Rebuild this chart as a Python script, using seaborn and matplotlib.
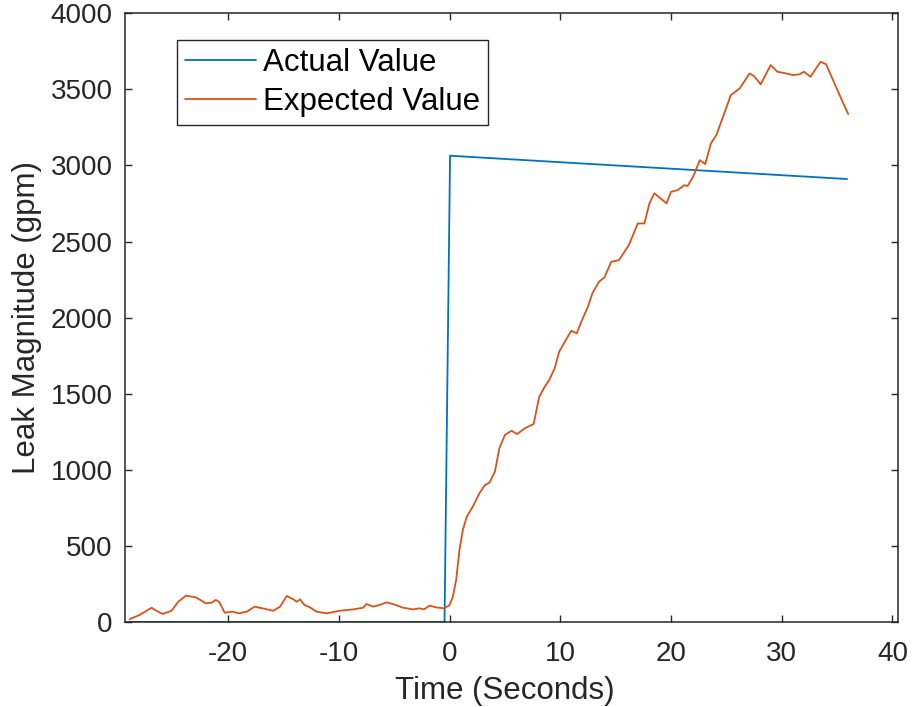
import numpy as np
import pandas as pd
import matplotlib
matplotlib.use("Agg")
import matplotlib.pyplot as plt
import seaborn as sns

# ---- data ----
actual_time = [-28.9, -0.45, 0.05, 35.9]
actual_value = [0, 0, 3064, 2911]

expected_time = [
    -28.9, -28.0, -26.9, -26.6, -25.9, -25.1, -24.5, -23.8, -22.9, -22.0,
    -21.5, -21.1, -20.8, -20.3, -19.6, -19.0, -18.3, -17.6, -16.9, -15.9,
    -15.3, -14.7, -14.1, -13.8, -13.5, -13.1, -12.6, -12.0, -11.1, -9.9,
    -8.7, -7.8, -7.5, -6.9, -6.3, -5.7, -5.1, -4.2, -3.3, -2.7,
    -2.3, -1.8, -1.2, -0.5, 0.0, 0.3, 0.6, 0.9, 1.2, 1.56,
    2.1, 2.7, 3.2, 3.6, 4.1, 4.5, 5.0, 5.6, 6.1, 6.8,
    7.6, 8.1, 8.6, 9.0, 9.5, 9.9, 10.5, 11.0, 11.5, 11.9,
    12.5, 12.9, 13.5, 14.0, 14.6, 15.3, 16.2, 17.0, 17.6, 18.05,
    18.5, 19.6, 20.0, 20.6, 21.2, 21.5, 22.0, 22.6, 23.1, 23.6,
    24.1, 24.7, 25.4, 26.2, 27.1, 27.5, 28.1, 29.0, 29.6, 30.4,
    31.0, 31.6, 32.0, 32.6, 33.0, 33.5, 34.0, 34.7, 35.5, 36.0,
]
expected_value = [
    18, 46, 94, 79, 53, 74, 133, 173, 162, 123,
    127, 145, 133, 61, 68, 57, 68, 101, 90, 74,
    101, 171, 149, 133, 149, 112, 96, 68, 57, 74,
    83, 94, 118, 101, 112, 129, 118, 94, 83, 90,
    83, 108, 96, 90, 110, 166, 276, 473, 604, 692,
    758, 846, 900, 915, 988, 1141, 1229, 1257, 1235, 1273,
    1301, 1480, 1546, 1590, 1667, 1776, 1853, 1914, 1897, 1973,
    2072, 2160, 2236, 2265, 2367, 2378, 2477, 2619, 2619, 2751,
    2817, 2751, 2827, 2838, 2871, 2865, 2926, 3035, 3009, 3145,
    3200, 3320, 3462, 3506, 3605, 3587, 3533, 3660, 3616, 3605,
    3594, 3599, 3616, 3583, 3627, 3681, 3666, 3550, 3418, 3338,
]

x_ticks = [-20, -10, 0, 10, 20, 30, 40]
y_ticks = [0, 500, 1000, 1500, 2000, 2500, 3000, 3500, 4000]
series_labels = ["Actual Value", "Expected Value"]
series_colors = ["#0072BD", "#D95319"]

# ---- style ----
sns.set_style("ticks")
plt.rcParams["font.family"] = ["Liberation Sans", "DejaVu Sans"]
axis_gray = "#262626"

fig = plt.figure(figsize=(9.14, 7.07), dpi=100)
ax = fig.add_axes([0.1368, 0.1202, 0.8457, 0.8610])

df_a = pd.DataFrame({"t": actual_time, "v": actual_value})
df_e = pd.DataFrame({"t": expected_time, "v": expected_value})

sns.lineplot(data=df_a, x="t", y="v", ax=ax, color=series_colors[0],
             linewidth=1.3, label=series_labels[0], sort=False)
sns.lineplot(data=df_e, x="t", y="v", ax=ax, color=series_colors[1],
             linewidth=1.3, label=series_labels[1], sort=False)

ax.set_xlim(-29.3, 40.5)
ax.set_ylim(0, 4000)
ax.set_xticks(x_ticks)
ax.set_yticks(y_ticks)
ax.set_xticklabels([str(v) for v in x_ticks])
ax.set_yticklabels([str(v) for v in y_ticks])

for s in ax.spines.values():
    s.set_visible(True)
    s.set_color(axis_gray)
    s.set_linewidth(1.1)

ax.tick_params(axis="both", direction="in", length=5, width=1.0,
               color=axis_gray, labelcolor=axis_gray, labelsize=20,
               top=True, right=True)
ax.tick_params(axis="x", pad=14)
ax.tick_params(axis="y", pad=9)

ax.set_xlabel("Time (Seconds)", fontsize=22.5, color=axis_gray)
ax.xaxis.set_label_coords(0.491, -0.088)
ax.set_ylabel("Leak Magnitude (gpm)", fontsize=22.5, color=axis_gray, labelpad=6)

leg = ax.legend(loc="upper left", bbox_to_anchor=(0.0669, 0.956),
                borderaxespad=0, fontsize=22.5, frameon=True, fancybox=False,
                framealpha=1, edgecolor=axis_gray, handlelength=2.3,
                handletextpad=0.2, borderpad=0.25, labelspacing=0.3)
leg.get_frame().set_linewidth(1.0)
for txt in leg.get_texts():
    txt.set_color("black")

fig.savefig("out.png", dpi=100, facecolor="white")
